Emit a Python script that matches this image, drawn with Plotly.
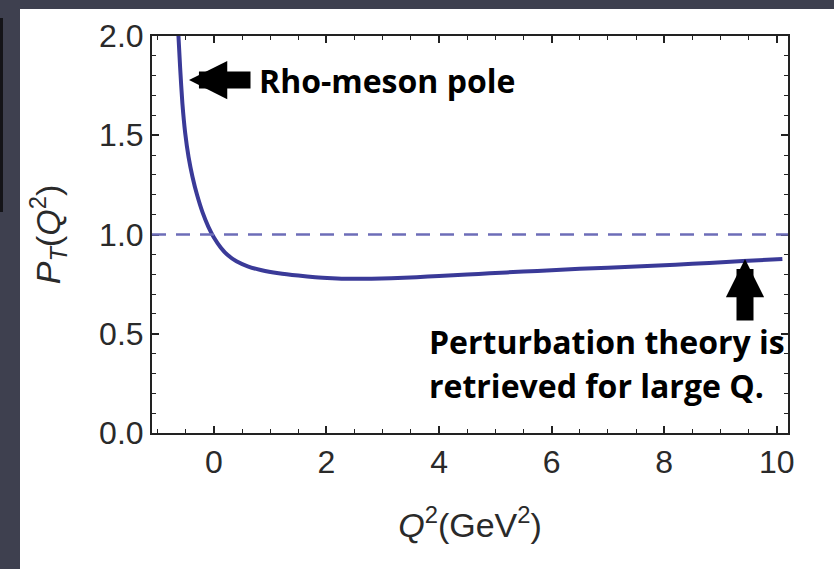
import plotly.graph_objects as go

# Data
q2 = [-0.63, -0.60, -0.56, -0.51, -0.45, -0.38, -0.30, -0.20, -0.10, 0.00, 0.12, 0.25,
      0.40, 0.60, 0.85, 1.15, 1.50, 1.80, 2.10, 2.40, 2.80, 3.15, 3.60, 4.00, 4.50, 4.90,
      5.50, 6.00, 6.50, 7.00, 7.60, 8.20, 8.80, 9.40, 10.10]
pt = [2.00, 1.84, 1.66, 1.51, 1.39, 1.29, 1.20, 1.11, 1.04, 0.985, 0.935, 0.895,
      0.865, 0.840, 0.820, 0.805, 0.793, 0.785, 0.780, 0.777, 0.777, 0.779, 0.785, 0.791, 0.798, 0.805,
      0.813, 0.820, 0.827, 0.833, 0.840, 0.848, 0.857, 0.866, 0.877]
ref_level = 1.0
x_ticks = [0, 2, 4, 6, 8, 10]
y_ticks = [0.0, 0.5, 1.0, 1.5, 2.0]
y_tick_text = ["0.0", "0.5", "1.0", "1.5", "2.0"]

W, H = 834, 569
L, R, T, B = 152, 788, 36, 433

def px(xp):
    return (xp - L) / (R - L)

def py(yp):
    return (B - yp) / (B - T)

curve_color = "#3a3a98"
dash_color = "#6d6db8"

fig = go.Figure()
fig.add_trace(go.Scatter(x=q2, y=pt, mode="lines",
                         line=dict(color=curve_color, width=4, shape="spline", smoothing=0.6),
                         hoverinfo="skip", showlegend=False))
fig.add_hline(y=ref_level, line=dict(color=dash_color, width=2.5, dash="14px,10px"))

tickfont = dict(family="Liberation Sans, Arial, sans-serif", size=32, color="#2a2a2a")
titlefont = dict(family="Liberation Sans, Arial, sans-serif", size=34, color="#2a2a2a")
axis_common = dict(showline=True, linecolor="#222", linewidth=2, mirror="ticks",
                   ticks="inside", ticklen=7, tickwidth=1.5, tickcolor="#222",
                   showgrid=False, zeroline=False, tickfont=tickfont)

fig.update_xaxes(range=[-1.1, 10.2], tickvals=x_ticks,
                 minor=dict(ticks="inside", ticklen=4, dtick=0.5, tick0=0, tickcolor="#222", tickwidth=1.2),
                 title=dict(text="<i>Q</i><sup>2</sup>(GeV<sup>2</sup>)", font=titlefont, standoff=34),
                 **axis_common)
fig.update_yaxes(range=[0, 2.0], tickvals=y_ticks, ticktext=y_tick_text,
                 minor=dict(ticks="inside", ticklen=4, dtick=0.1, tick0=0, tickcolor="#222", tickwidth=1.2),
                 title=dict(text="<i>P</i><sub><i>T</i></sub>(<i>Q</i><sup>2</sup>)", font=titlefont, standoff=28),
                 **axis_common)

slate = "#3e404f"
shapes = [
    dict(type="rect", xref="paper", yref="paper", x0=px(13), x1=px(W + 20), y0=py(3), y1=py(H + 20),
         fillcolor="#111116", line=dict(width=0), layer="below"),
    dict(type="rect", xref="paper", yref="paper", x0=px(20), x1=px(W + 20), y0=py(9), y1=py(H + 20),
         fillcolor="white", line=dict(width=0), layer="below"),
    dict(type="rect", xref="paper", yref="paper", x0=px(-5), x1=px(3), y0=py(18), y1=py(212),
         fillcolor="#141418", line=dict(width=0), layer="below"),
]

afont = dict(family="Open Sans, sans-serif", size=32, color="black")
annotations = [
    dict(text="<b>Rho-meson pole</b>", xref="paper", yref="paper", x=px(257), y=py(80),
         xanchor="left", yanchor="middle", showarrow=False, font=afont),
    dict(text="<b>Perturbation theory is</b>", xref="paper", yref="paper", x=px(427), y=py(341),
         xanchor="left", yanchor="middle", showarrow=False, font=afont),
    dict(text="<b>retrieved for large Q.</b>", xref="paper", yref="paper", x=px(427), y=py(385),
         xanchor="left", yanchor="middle", showarrow=False, font=afont),
    dict(text="", xref="paper", yref="paper", x=px(189), y=py(80), ax=63, ay=0,
         showarrow=True, arrowhead=2, arrowwidth=17, arrowsize=0.45, arrowcolor="black"),
    dict(text="", xref="paper", yref="paper", x=px(745), y=py(259), ax=0, ay=63,
         showarrow=True, arrowhead=2, arrowwidth=17, arrowsize=0.45, arrowcolor="black"),
]

fig.update_layout(width=W, height=H, margin=dict(l=L, r=W - R, t=T, b=H - B),
                  paper_bgcolor=slate, plot_bgcolor="white",
                  shapes=shapes, annotations=annotations, showlegend=False)

fig.write_html("out.html")
